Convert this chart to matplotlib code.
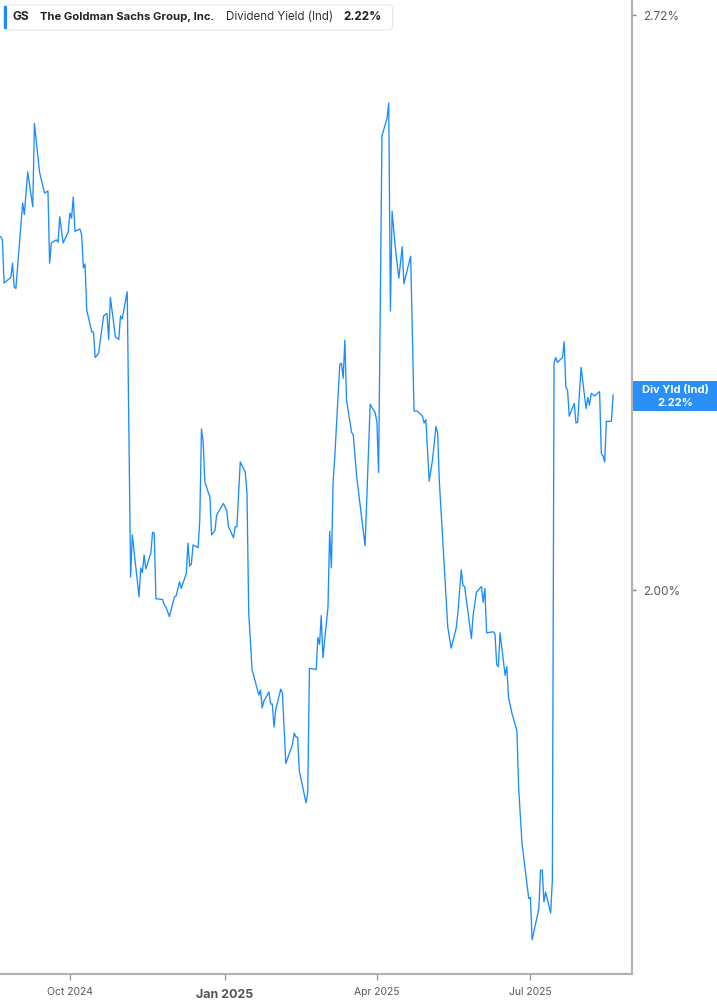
import numpy as np
import pandas as pd
import matplotlib
matplotlib.use("Agg")
import matplotlib.pyplot as plt
import matplotlib.dates as mdates
from matplotlib.patches import Rectangle, FancyBboxPatch
from matplotlib.ticker import NullLocator, FixedLocator, FixedFormatter

# GS dividend yield (indicated), values in %
dates = [
    "2024-08-21", "2024-08-22", "2024-08-23", "2024-08-27", "2024-08-28", "2024-08-29", "2024-08-30",
    "2024-09-03", "2024-09-04", "2024-09-06", "2024-09-09", "2024-09-10", "2024-09-13", "2024-09-16",
    "2024-09-18", "2024-09-19", "2024-09-20", "2024-09-23", "2024-09-24", "2024-09-25", "2024-09-27",
    "2024-09-30", "2024-10-01", "2024-10-02", "2024-10-03", "2024-10-04", "2024-10-07", "2024-10-08",
    "2024-10-09", "2024-10-10", "2024-10-11", "2024-10-14", "2024-10-15", "2024-10-16", "2024-10-18",
    "2024-10-21", "2024-10-23", "2024-10-24", "2024-10-25", "2024-10-28", "2024-10-30", "2024-10-31",
    "2024-11-01", "2024-11-04", "2024-11-06", "2024-11-07", "2024-11-11", "2024-11-12", "2024-11-13",
    "2024-11-14", "2024-11-15", "2024-11-18", "2024-11-19", "2024-11-20", "2024-11-21", "2024-11-25",
    "2024-11-26", "2024-11-27", "2024-11-29", "2024-12-02", "2024-12-03", "2024-12-05", "2024-12-06",
    "2024-12-09", "2024-12-10", "2024-12-11", "2024-12-12", "2024-12-13", "2024-12-16", "2024-12-17",
    "2024-12-18", "2024-12-19", "2024-12-20", "2024-12-23", "2024-12-24", "2024-12-26", "2024-12-27",
    "2024-12-31", "2025-01-02", "2025-01-03", "2025-01-06", "2025-01-07", "2025-01-08", "2025-01-10",
    "2025-01-13", "2025-01-14", "2025-01-15", "2025-01-17", "2025-01-21", "2025-01-22", "2025-01-23",
    "2025-01-24", "2025-01-27", "2025-01-28", "2025-01-29", "2025-01-30", "2025-01-31", "2025-02-03",
    "2025-02-04", "2025-02-06", "2025-02-10", "2025-02-11", "2025-02-12", "2025-02-13", "2025-02-14",
    "2025-02-18", "2025-02-19", "2025-02-20", "2025-02-21", "2025-02-24", "2025-02-25", "2025-02-26",
    "2025-02-27", "2025-02-28", "2025-03-03", "2025-03-04", "2025-03-05", "2025-03-06", "2025-03-07",
    "2025-03-10", "2025-03-11", "2025-03-12", "2025-03-13", "2025-03-14", "2025-03-17", "2025-03-18",
    "2025-03-20", "2025-03-25", "2025-03-28", "2025-03-31", "2025-04-01", "2025-04-02", "2025-04-04",
    "2025-04-07", "2025-04-08", "2025-04-09", "2025-04-10", "2025-04-12", "2025-04-14", "2025-04-16",
    "2025-04-17", "2025-04-21", "2025-04-23", "2025-04-25", "2025-04-28", "2025-04-29", "2025-04-30",
    "2025-05-02", "2025-05-04", "2025-05-06", "2025-05-07", "2025-05-08", "2025-05-13", "2025-05-15",
    "2025-05-18", "2025-05-19", "2025-05-21", "2025-05-22", "2025-05-23", "2025-05-27", "2025-05-28",
    "2025-05-30", "2025-06-02", "2025-06-03", "2025-06-04", "2025-06-05", "2025-06-09", "2025-06-10",
    "2025-06-11", "2025-06-12", "2025-06-13", "2025-06-16", "2025-06-17", "2025-06-18", "2025-06-20",
    "2025-06-23", "2025-06-24", "2025-06-26", "2025-06-30", "2025-07-01", "2025-07-02", "2025-07-06",
    "2025-07-07", "2025-07-08", "2025-07-09", "2025-07-10", "2025-07-13", "2025-07-14", "2025-07-15",
    "2025-07-16", "2025-07-17", "2025-07-20", "2025-07-21", "2025-07-22", "2025-07-23", "2025-07-24",
    "2025-07-27", "2025-07-28", "2025-07-29", "2025-07-31", "2025-08-03", "2025-08-04", "2025-08-05",
    "2025-08-06", "2025-08-08", "2025-08-11", "2025-08-12", "2025-08-13", "2025-08-14", "2025-08-15",
    "2025-08-18", "2025-08-19",
]
yield_pct = [
    2.416, 2.412, 2.357, 2.364, 2.382, 2.352, 2.350,
    2.460, 2.445, 2.501, 2.455, 2.567, 2.501, 2.473,
    2.476, 2.382, 2.408, 2.412, 2.409, 2.442, 2.408,
    2.422, 2.447, 2.440, 2.468, 2.423, 2.426, 2.418,
    2.376, 2.381, 2.323, 2.296, 2.296, 2.265, 2.270,
    2.316, 2.319, 2.287, 2.339, 2.290, 2.287, 2.316,
    2.312, 2.346, 2.014, 2.060, 1.993, 2.024, 2.019,
    2.038, 2.023, 2.040, 2.063, 2.062, 1.991, 1.990,
    1.984, 1.982, 1.972, 1.993, 1.994, 2.009, 2.002,
    2.018, 2.051, 2.026, 2.028, 2.049, 2.046, 2.076,
    2.180, 2.165, 2.119, 2.102, 2.060, 2.065, 2.082,
    2.095, 2.087, 2.069, 2.057, 2.069, 2.069, 2.142,
    2.130, 2.106, 1.977, 1.917, 1.891, 1.896, 1.878,
    1.885, 1.894, 1.882, 1.882, 1.859, 1.876, 1.897,
    1.893, 1.823, 1.842, 1.853, 1.849, 1.849, 1.816,
    1.785, 1.795, 1.918, 1.918, 1.917, 1.950, 1.943,
    1.973, 1.929, 1.982, 2.064, 2.024, 2.118, 2.147,
    2.257, 2.258, 2.240, 2.286, 2.214, 2.176, 2.173,
    2.125, 2.048, 2.209, 2.199, 2.188, 2.130, 2.550,
    2.574, 2.595, 2.322, 2.449, 2.400, 2.363, 2.403,
    2.356, 2.391, 2.201, 2.201, 2.195, 2.187, 2.191,
    2.120, 2.145, 2.183, 2.175, 2.120, 1.961, 1.939,
    1.960, 1.976, 2.022, 2.005, 2.004, 1.949, 1.973,
    1.998, 2.004, 1.987, 2.002, 1.955, 1.956, 1.954,
    1.922, 1.920, 1.955, 1.911, 1.920, 1.889, 1.873,
    1.855, 1.800, 1.747, 1.696, 1.697, 1.659, 1.687,
    1.722, 1.722, 1.693, 1.702, 1.683, 1.713, 2.258,
    2.265, 2.259, 2.265, 2.284, 2.229, 2.226, 2.195,
    2.210, 2.187, 2.188, 2.253, 2.204, 2.217, 2.208,
    2.222, 2.219, 2.224, 2.152, 2.149, 2.142, 2.189,
    2.189, 2.220,
]
x_ticks = ["2024-10-01", "2025-01-01", "2025-04-01", "2025-07-01"]
x_tick_labels = ["Oct 2024", "Jan 2025", "Apr 2025", "Jul 2025"]
y_ticks = [2.00, 2.72]
y_tick_labels = ["2.00%", "2.72%"]
last_value = 2.22

ticker_name = "GS"
company = "The Goldman Sachs Group, Inc."
metric = "Dividend Yield (Ind)"

LINE = "#1a8cff"
BOX = "#2a8ff7"
GRAY = "#b0b0b0"
TXT = "#5a5a5a"

plt.rcParams["font.family"] = ["Inter", "DejaVu Sans"]

W, H = 717, 1005
fig = plt.figure(figsize=(W / 100, H / 100), dpi=100)
ax = fig.add_axes([0, (H - 974) / H, 632 / W, 974 / H])

t = pd.to_datetime(dates)
ax.plot(t, yield_pct, color=LINE, lw=0.95)

ax.set_yscale("log")
ax.set_ylim(1.629, 2.742)
ax.set_xlim(pd.Timestamp("2024-08-20 14:00"), pd.Timestamp("2025-08-30 05:00"))

for s in ["top", "left"]:
    ax.spines[s].set_visible(False)
for s in ["right", "bottom"]:
    ax.spines[s].set_color(GRAY)
    ax.spines[s].set_linewidth(1.5)

ax.yaxis.tick_right()
ax.yaxis.set_major_locator(FixedLocator(y_ticks))
ax.yaxis.set_major_formatter(FixedFormatter(y_tick_labels))
ax.yaxis.set_minor_locator(NullLocator())
ax.yaxis.set_minor_formatter(FixedFormatter([]))
ax.tick_params(axis="y", length=3, width=1, color="#888888", labelcolor=TXT,
               labelsize=8.5, pad=5)

tick_pos = mdates.date2num(pd.to_datetime(x_ticks))
ax.set_xticks(tick_pos)
ax.set_xticklabels(x_tick_labels)
ax.tick_params(axis="x", length=4, width=1, color="#999999", labelcolor=TXT,
               labelsize=7.5, pad=5)
for lab in ax.get_xticklabels():
    if lab.get_text().startswith("Jan"):
        lab.set_fontweight("bold")
        lab.set_fontsize(9)
        lab.set_color("#555555")
        lab.set_y(-0.003)

# legend box top-left
fig.patches.append(FancyBboxPatch((3.5 / W, 1 - 30 / H), 389 / W, 25 / H,
                                  boxstyle="round,pad=0,rounding_size=0.004",
                                  transform=fig.transFigure, facecolor="white",
                                  edgecolor="#e6e6e6", lw=0.8))
fig.patches.append(Rectangle((3.5 / W, 1 - 29 / H), 3 / W, 23 / H,
                             transform=fig.transFigure, facecolor=LINE, edgecolor="none"))
ty = 1 - 17.5 / H
fig.text(13 / W, ty, ticker_name, fontsize=8.5, fontweight="bold", color="#222222", va="center")
fig.text(40 / W, ty, company, fontsize=8.1, fontweight="bold", color="#222222", va="center")
fig.text(226 / W, ty, metric, fontsize=8.3, color="#333333", va="center")
fig.text(343 / W, ty, f"{last_value:.2f}%", fontsize=8.5, fontweight="bold", color="#222222", va="center")

# last value marker on right axis
fig.canvas.draw()
py = ax.transData.transform((tick_pos[0], last_value))[1]
fy = fig.transFigure.inverted().transform((0, py))[1]
fig.patches.append(Rectangle((632.5 / W, fy - 16 / H), (W - 632.5) / W, 30 / H,
                             transform=fig.transFigure, facecolor=BOX, edgecolor="none"))
fig.text(675 / W, fy + 5 / H, "Div Yld (Ind)", fontsize=8, fontweight="bold",
         color="white", ha="center", va="center")
fig.text(675 / W, fy - 8 / H, f"{last_value:.2f}%", fontsize=8, fontweight="bold",
         color="white", ha="center", va="center")

fig.savefig("out.png", dpi=100)
